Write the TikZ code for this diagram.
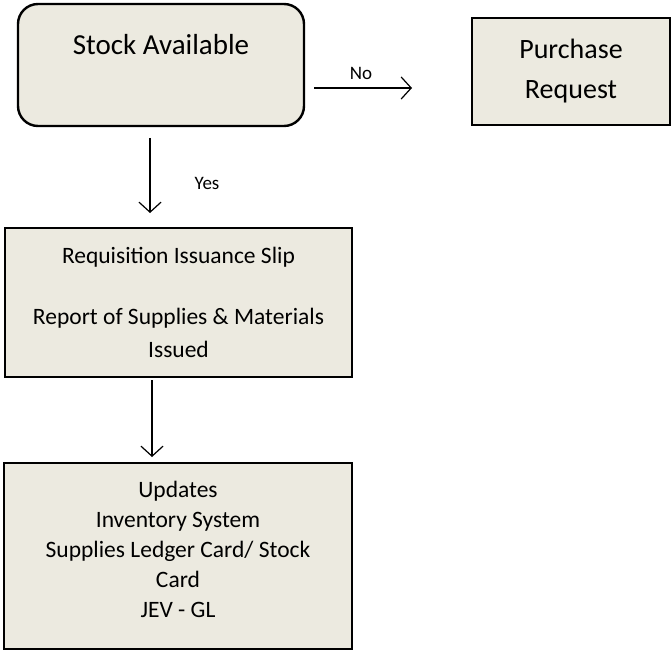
\documentclass[tikz,border=0pt]{standalone}
\usepackage{fontspec}
\setmainfont{Carlito}
\usetikzlibrary{arrows.meta}
\definecolor{boxfill}{HTML}{ECEAE0}
\tikzset{
  flowbox/.style={draw=black, line width=2.4pt, fill=boxfill, inner sep=0pt, align=center},
  flowarrow/.style={line width=1.2pt, -{Straight Barb[length=10pt, width=22pt, line width=1.2pt]}},
  edgelabel/.style={font=\fontsize{19}{22}\selectfont, inner sep=0pt}
}
\begin{document}
\begin{tikzpicture}[x=1pt, y=-1pt]
  \useasboundingbox (0,0) rectangle (672,650);
  % decision box and the branch boxes
  \node[flowbox, rounded corners=20pt, minimum width=286pt, minimum height=122pt] (stock) at (161,65) {};
  \node[font=\fontsize{29}{34}\selectfont, inner sep=0pt] (stocktxt) at (161,45) {Stock Available};
  \node[flowbox, minimum width=198pt, minimum height=107pt, font=\fontsize{28}{40}\selectfont] (purchase) at (571,71.5) {Purchase\\Request};
  \node[flowbox, minimum width=347pt, minimum height=149pt, font=\fontsize{23.5}{33}\selectfont] (slip) at (178.5,302.5)
    {Requisition Issuance Slip\\[28pt]Report of Supplies \& Materials\\Issued};
  \node[flowbox, minimum width=348pt, minimum height=186pt] (updates) at (178,556) {};
  \node[align=center, inner sep=0pt, font=\fontsize{23.5}{30}\selectfont] (updtxt) at (178,549)
    {Updates\\Inventory System\\Supplies Ledger Card/ Stock\\Card\\JEV - GL};
  % connectors
  \coordinate (noA) at (314,88);
  \coordinate (noB) at (412,88);
  \draw[flowarrow] (noA) -- (noB);
  \node[edgelabel] (nolbl) at (361,73) {No};
  \coordinate (yesA) at (150,138);
  \coordinate (yesB) at (150,213);
  \draw[flowarrow] (yesA) -- (yesB);
  \node[edgelabel] (yeslbl) at (207,183) {Yes};
  \coordinate (issA) at (152,380);
  \coordinate (issB) at (152,457);
  \draw[flowarrow] (issA) -- (issB);
\end{tikzpicture}
\end{document}
